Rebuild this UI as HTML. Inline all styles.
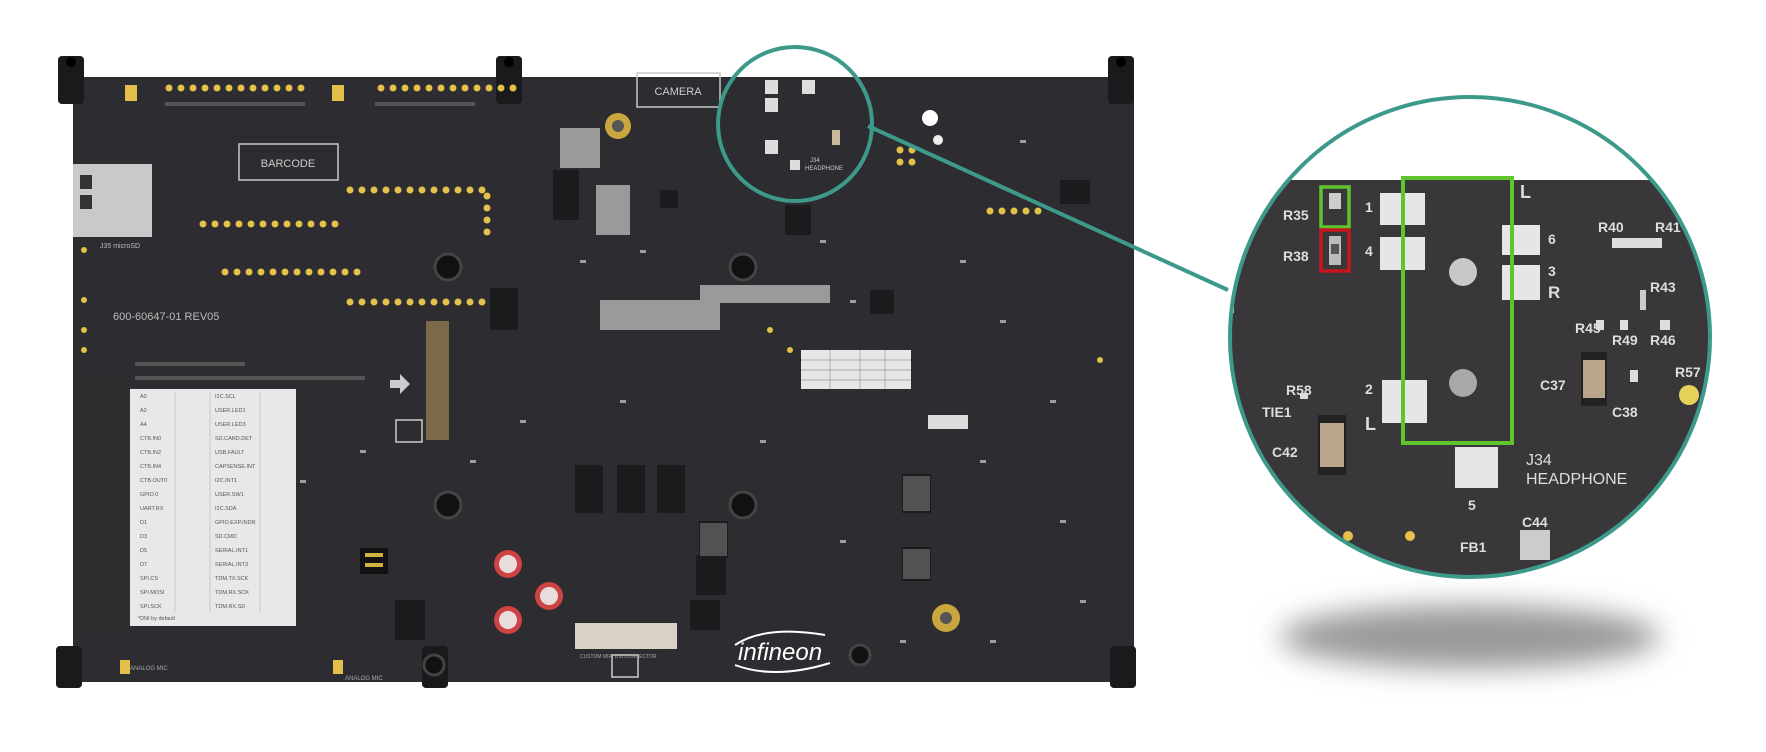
<!DOCTYPE html>
<html><head><meta charset="utf-8"><style>
html,body{margin:0;padding:0;background:#fff;}
svg{display:block;font-family:"Liberation Sans",sans-serif;}
</style></head><body>
<svg width="1766" height="752" viewBox="0 0 1766 752" xmlns="http://www.w3.org/2000/svg">
<defs>
<filter id="blur" x="-50%" y="-50%" width="200%" height="200%"><feGaussianBlur stdDeviation="14"/></filter>
<clipPath id="bc"><circle cx="1470" cy="337" r="240"/></clipPath>
<pattern id="hatch" width="4" height="4" patternUnits="userSpaceOnUse"><rect width="4" height="4" fill="#2a292c"/><path d="M0 4L4 0" stroke="#353438" stroke-width="1"/></pattern>
</defs>
<rect width="1766" height="752" fill="#fff"/>
<!-- shadow -->
<ellipse cx="1470" cy="637" rx="190" ry="32" fill="#9a9a9a" filter="url(#blur)"/>

<!-- board -->
<rect x="73" y="77" width="1061" height="605" fill="#2d2c30"/>
<rect x="73" y="372" width="57" height="260" fill="url(#hatch)"/>
<!-- standoffs -->
<g fill="#1a1a1c">
<rect x="58" y="56" width="26" height="48" rx="4"/><rect x="496" y="56" width="26" height="48" rx="4"/><rect x="1108" y="56" width="26" height="48" rx="4"/>
<rect x="56" y="646" width="26" height="42" rx="4"/><rect x="422" y="646" width="26" height="42" rx="4"/><rect x="1110" y="646" width="26" height="42" rx="4"/>
</g>
<g fill="#000"><circle cx="71" cy="62" r="5"/><circle cx="509" cy="62" r="5"/><circle cx="1121" cy="62" r="5"/></g>

<!-- boxes -->
<rect x="239" y="144" width="99" height="36" fill="none" stroke="#c8c8c8" stroke-width="1.5"/>
<text x="288" y="167" fill="#ccc" font-size="11" text-anchor="middle">BARCODE</text>
<rect x="637" y="73" width="83" height="34" fill="none" stroke="#c8c8c8" stroke-width="1.5"/>
<text x="678" y="95" fill="#ccc" font-size="11" text-anchor="middle">CAMERA</text>
<!-- microSD -->
<rect x="73" y="164" width="79" height="73" fill="#c9c9c9"/>
<rect x="80" y="175" width="12" height="14" fill="#333"/><rect x="80" y="195" width="12" height="14" fill="#333"/>
<text x="100" y="248" fill="#bbb" font-size="7">J35 microSD</text>
<text x="113" y="320" fill="#bbb" font-size="11">600-60647-01 REV05</text>

<!-- header dots -->
<g fill="#e2c04a">
<g id="r12"><circle cx="169" cy="88" r="3.5"/><circle cx="181" cy="88" r="3.5"/><circle cx="193" cy="88" r="3.5"/><circle cx="205" cy="88" r="3.5"/><circle cx="217" cy="88" r="3.5"/><circle cx="229" cy="88" r="3.5"/><circle cx="241" cy="88" r="3.5"/><circle cx="253" cy="88" r="3.5"/><circle cx="265" cy="88" r="3.5"/><circle cx="277" cy="88" r="3.5"/><circle cx="289" cy="88" r="3.5"/><circle cx="301" cy="88" r="3.5"/></g>
<use href="#r12" transform="translate(212,0)" clip-path="none"/>
<use href="#r12" transform="translate(34,136)"/>
<use href="#r12" transform="translate(56,184)"/>
<use href="#r12" transform="translate(181,102)"/>
<use href="#r12" transform="translate(181,214)"/>
<circle cx="487" cy="196" r="3.5"/><circle cx="487" cy="208" r="3.5"/><circle cx="487" cy="220" r="3.5"/><circle cx="487" cy="232" r="3.5"/>
<circle cx="990" cy="211" r="3.5"/><circle cx="1002" cy="211" r="3.5"/><circle cx="1014" cy="211" r="3.5"/><circle cx="1026" cy="211" r="3.5"/><circle cx="1038" cy="211" r="3.5"/>
<circle cx="900" cy="150" r="3.5"/><circle cx="912" cy="150" r="3.5"/><circle cx="900" cy="162" r="3.5"/><circle cx="912" cy="162" r="3.5"/>
<circle cx="84" cy="250" r="3"/><circle cx="84" cy="300" r="3"/><circle cx="84" cy="330" r="3"/><circle cx="84" cy="350" r="3"/>
<circle cx="770" cy="330" r="3"/><circle cx="790" cy="350" r="3"/><circle cx="1100" cy="360" r="3"/>
</g>
<rect x="125" y="85" width="12" height="16" fill="#e2c04a"/><rect x="332" y="85" width="12" height="16" fill="#e2c04a"/>
<rect x="120" y="660" width="10" height="14" fill="#e2c04a"/><rect x="333" y="660" width="10" height="14" fill="#e2c04a"/>
<!-- second row grey dots -->
<g fill="#555"><rect x="165" y="102" width="140" height="4"/><rect x="375" y="102" width="100" height="4"/><rect x="135" y="362" width="110" height="4"/><rect x="135" y="376" width="230" height="4"/></g>

<!-- mounting holes -->
<g fill="#111" stroke="#444" stroke-width="3">
<circle cx="448" cy="267" r="13"/><circle cx="743" cy="267" r="13"/><circle cx="448" cy="505" r="13"/><circle cx="743" cy="505" r="13"/>
<circle cx="434" cy="665" r="10"/><circle cx="860" cy="655" r="10"/>
</g>
<circle cx="618" cy="126" r="13" fill="#c9a73e"/><circle cx="618" cy="126" r="6" fill="#555"/>
<circle cx="946" cy="618" r="14" fill="#c9a73e"/><circle cx="946" cy="618" r="6" fill="#555"/>
<circle cx="930" cy="118" r="8" fill="#fff"/><circle cx="938" cy="140" r="5" fill="#eee"/>

<!-- ICs and components -->
<g fill="#1c1c1e">
<rect x="575" y="465" width="28" height="48"/><rect x="617" y="465" width="28" height="48"/><rect x="657" y="465" width="28" height="48"/>
<rect x="902" y="474" width="29" height="39"/><rect x="902" y="547" width="29" height="34"/><rect x="699" y="521" width="29" height="37"/>
<rect x="490" y="288" width="28" height="42"/><rect x="785" y="205" width="26" height="30"/><rect x="870" y="290" width="24" height="24"/>
<rect x="553" y="170" width="26" height="50"/><rect x="696" y="555" width="30" height="40"/><rect x="395" y="600" width="30" height="40"/>
<rect x="660" y="190" width="18" height="18"/><rect x="690" y="600" width="30" height="30"/><rect x="1060" y="180" width="30" height="24"/>
</g>
<g fill="#888"><rect x="903" y="476" width="27" height="35" opacity=".5"/><rect x="903" y="549" width="27" height="30" opacity=".5"/><rect x="700" y="523" width="27" height="33" opacity=".5"/></g>
<!-- grey component arrays -->
<g fill="#9a9a9a">
<rect x="596" y="185" width="34" height="50"/><rect x="700" y="285" width="130" height="18"/><rect x="600" y="300" width="120" height="30"/>
<rect x="560" y="128" width="40" height="40"/><rect x="437" y="378" width="12" height="16"/>
</g>
<rect x="426" y="321" width="23" height="119" fill="#7b6a4a"/>
<rect x="575" y="623" width="102" height="26" fill="#d8d2c4"/>
<rect x="928" y="415" width="40" height="14" fill="#ddd"/>
<!-- red caps -->
<g><circle cx="508" cy="564" r="14" fill="#c44"/><circle cx="549" cy="596" r="14" fill="#c44"/><circle cx="508" cy="620" r="14" fill="#c44"/>
<circle cx="508" cy="564" r="9" fill="#e9dede"/><circle cx="549" cy="596" r="9" fill="#e9dede"/><circle cx="508" cy="620" r="9" fill="#e9dede"/></g>
<rect x="360" y="548" width="28" height="26" fill="#111"/><rect x="365" y="553" width="18" height="4" fill="#d4b040"/><rect x="365" y="563" width="18" height="4" fill="#d4b040"/>
<!-- table right -->
<rect x="801" y="350" width="110" height="39" fill="#e6e6e6"/>
<g stroke="#999" stroke-width=".7"><line x1="801" y1="360" x2="911" y2="360"/><line x1="801" y1="370" x2="911" y2="370"/><line x1="801" y1="380" x2="911" y2="380"/><line x1="830" y1="350" x2="830" y2="389"/><line x1="860" y1="350" x2="860" y2="389"/><line x1="885" y1="350" x2="885" y2="389"/></g>
<!-- arrow -->
<path d="M390 380 h10 v-6 l10 10 l-10 10 v-6 h-10z" fill="#ccc"/>
<rect x="396" y="420" width="26" height="22" fill="none" stroke="#ccc" stroke-width="1.5"/>
<rect x="612" y="655" width="26" height="22" fill="none" stroke="#ccc" stroke-width="1.5"/>
<!-- small components scattered -->
<g fill="#bbb" opacity=".8">
<rect x="580" y="260" width="6" height="3"/><rect x="640" y="250" width="6" height="3"/><rect x="820" y="240" width="6" height="3"/><rect x="850" y="300" width="6" height="3"/>
<rect x="960" y="260" width="6" height="3"/><rect x="1000" y="320" width="6" height="3"/><rect x="1050" y="400" width="6" height="3"/><rect x="980" y="460" width="6" height="3"/>
<rect x="1060" y="520" width="6" height="3"/><rect x="840" y="540" width="6" height="3"/><rect x="760" y="440" width="6" height="3"/><rect x="520" y="420" width="6" height="3"/>
<rect x="470" y="460" width="6" height="3"/><rect x="360" y="450" width="6" height="3"/><rect x="300" y="480" width="6" height="3"/><rect x="620" y="400" width="6" height="3"/>
<rect x="1080" y="600" width="6" height="3"/><rect x="990" y="640" width="6" height="3"/><rect x="900" y="640" width="6" height="3"/><rect x="1020" y="140" width="6" height="3"/>
</g>
<!-- main table -->
<rect x="130" y="389" width="166" height="237" fill="#e8e8e8"/>
<g stroke="#aaa" stroke-width=".5">
<line x1="175" y1="392" x2="175" y2="612"/><line x1="210" y1="392" x2="210" y2="612"/><line x1="260" y1="392" x2="260" y2="612"/>
</g>
<g fill="#555" font-size="5.5">
<text x="140" y="398">A0</text><text x="140" y="412">A2</text><text x="140" y="426">A4</text><text x="140" y="440">CTB.IN0</text><text x="140" y="454">CTB.IN2</text><text x="140" y="468">CTB.IN4</text><text x="140" y="482">CTB.OUT0</text><text x="140" y="496">GPIO.0</text><text x="140" y="510">UART.RX</text><text x="140" y="524">D1</text><text x="140" y="538">D3</text><text x="140" y="552">D5</text><text x="140" y="566">D7</text><text x="140" y="580">SPI.CS</text><text x="140" y="594">SPI.MOSI</text><text x="140" y="608">SPI.SCK</text>
<text x="215" y="398">I2C.SCL</text><text x="215" y="412">USER.LED1</text><text x="215" y="426">USER.LED3</text><text x="215" y="440">SD.CARD.DET</text><text x="215" y="454">USB.FAULT</text><text x="215" y="468">CAPSENSE.INT</text><text x="215" y="482">I2C.INT1</text><text x="215" y="496">USER.SW1</text><text x="215" y="510">I2C.SDA</text><text x="215" y="524">GPIO.EXP.INDR</text><text x="215" y="538">SD.CMD</text><text x="215" y="552">SERIAL.INT1</text><text x="215" y="566">SERIAL.INT3</text><text x="215" y="580">TDM.TX.SCK</text><text x="215" y="594">TDM.RX.SCK</text><text x="215" y="608">TDM.RX.SD</text>
<text x="138" y="620">*DNI by default</text>
</g>
<!-- infineon -->
<text x="738" y="660" fill="#fff" font-size="24" font-style="italic">infineon</text>
<path d="M735 645 q30 -20 90 -10" stroke="#fff" stroke-width="2" fill="none"/>
<path d="M735 665 q40 15 95 -2" stroke="#fff" stroke-width="2" fill="none"/>
<text x="580" y="658" fill="#aaa" font-size="5">CUSTOM MIPI DSI CONNECTOR</text>
<text x="130" y="670" fill="#aaa" font-size="6">ANALOG MIC</text><text x="345" y="680" fill="#aaa" font-size="6">ANALOG MIC</text>

<!-- small circle content -->
<g fill="#ddd"><rect x="765" y="80" width="13" height="14"/><rect x="765" y="98" width="13" height="14"/><rect x="802" y="80" width="13" height="14"/><rect x="765" y="140" width="13" height="14"/><rect x="790" y="160" width="10" height="10"/></g>
<rect x="832" y="130" width="8" height="15" fill="#c9b99a"/>
<text x="810" y="162" fill="#ccc" font-size="6">J34</text><text x="805" y="170" fill="#ccc" font-size="6">HEADPHONE</text>
<circle cx="795" cy="124" r="77" fill="none" stroke="#3d9a8b" stroke-width="4"/>
<line x1="868" y1="126" x2="1228" y2="290" stroke="#3d9a8b" stroke-width="4"/>

<!-- big circle -->
<g clip-path="url(#bc)">
<rect x="1225" y="95" width="495" height="485" fill="#fff"/>
<rect x="1225" y="180" width="495" height="400" fill="#3a373a"/>
<rect x="1225" y="283" width="9" height="30" fill="#ddd"/>
<!-- pads -->
<g fill="#e6e6e6">
<rect x="1380" y="193" width="45" height="32"/><rect x="1380" y="237" width="45" height="33"/><rect x="1382" y="380" width="45" height="43"/>
<rect x="1502" y="225" width="38" height="30"/><rect x="1502" y="265" width="38" height="35"/><rect x="1455" y="447" width="43" height="41"/>
</g>
<circle cx="1463" cy="272" r="14" fill="#c8c8c8"/><circle cx="1463" cy="383" r="14" fill="#a8a8a8"/>
<rect x="1329" y="193" width="12" height="16" fill="#ccc"/>
<rect x="1329" y="236" width="12" height="29" fill="#bbb"/><rect x="1331" y="244" width="8" height="10" fill="#555"/>
<rect x="1318" y="415" width="28" height="60" fill="#222"/><rect x="1320" y="423" width="24" height="44" fill="#b8a58a"/>
<rect x="1581" y="352" width="26" height="54" fill="#222"/><rect x="1583" y="360" width="22" height="38" fill="#b8a58a"/>
<rect x="1612" y="238" width="50" height="10" fill="#ddd"/><rect x="1640" y="290" width="6" height="20" fill="#ccc"/>
<rect x="1596" y="320" width="8" height="10" fill="#ddd"/><rect x="1620" y="320" width="8" height="10" fill="#ddd"/><rect x="1660" y="320" width="10" height="10" fill="#ddd"/>
<rect x="1630" y="370" width="8" height="12" fill="#ddd"/><rect x="1300" y="393" width="8" height="6" fill="#ddd"/>
<rect x="1520" y="530" width="30" height="30" fill="#ccc"/>
<circle cx="1689" cy="395" r="10" fill="#e6d25a"/><circle cx="1410" cy="536" r="5" fill="#e6c04a"/><circle cx="1348" cy="536" r="5" fill="#e6c04a"/>
<g fill="#ddd" font-size="14" font-weight="bold">
<text x="1283" y="220">R35</text><text x="1283" y="261">R38</text><text x="1286" y="395">R58</text><text x="1262" y="417">TIE1</text><text x="1272" y="457">C42</text>
<text x="1365" y="212">1</text><text x="1365" y="256">4</text><text x="1365" y="394">2</text><text x="1365" y="430" font-size="18">L</text>
<text x="1548" y="244">6</text><text x="1548" y="276">3</text><text x="1548" y="298" font-size="17">R</text>
<text x="1520" y="198" font-size="18">L</text><text x="1468" y="510">5</text>
<text x="1598" y="232">R40</text><text x="1655" y="232">R41</text><text x="1650" y="292">R43</text><text x="1575" y="333">R45</text><text x="1612" y="345">R49</text><text x="1650" y="345">R46</text>
<text x="1540" y="390">C37</text><text x="1675" y="377">R57</text><text x="1612" y="417">C38</text>
<text x="1526" y="465" font-size="16" font-weight="normal">J34</text><text x="1526" y="484" font-size="16" font-weight="normal">HEADPHONE</text>
<text x="1460" y="552">FB1</text><text x="1522" y="527">C44</text>
</g>
<rect x="1403" y="178" width="109" height="265" fill="none" stroke="#5ec52d" stroke-width="4"/>
<rect x="1321" y="187" width="28" height="40" fill="none" stroke="#5ec52d" stroke-width="3.5"/>
<rect x="1321" y="230" width="28" height="41" fill="none" stroke="#c4161c" stroke-width="3.5"/>
</g>
<circle cx="1470" cy="337" r="240" fill="none" stroke="#3d9a8b" stroke-width="4"/>
</svg>
</body></html>
